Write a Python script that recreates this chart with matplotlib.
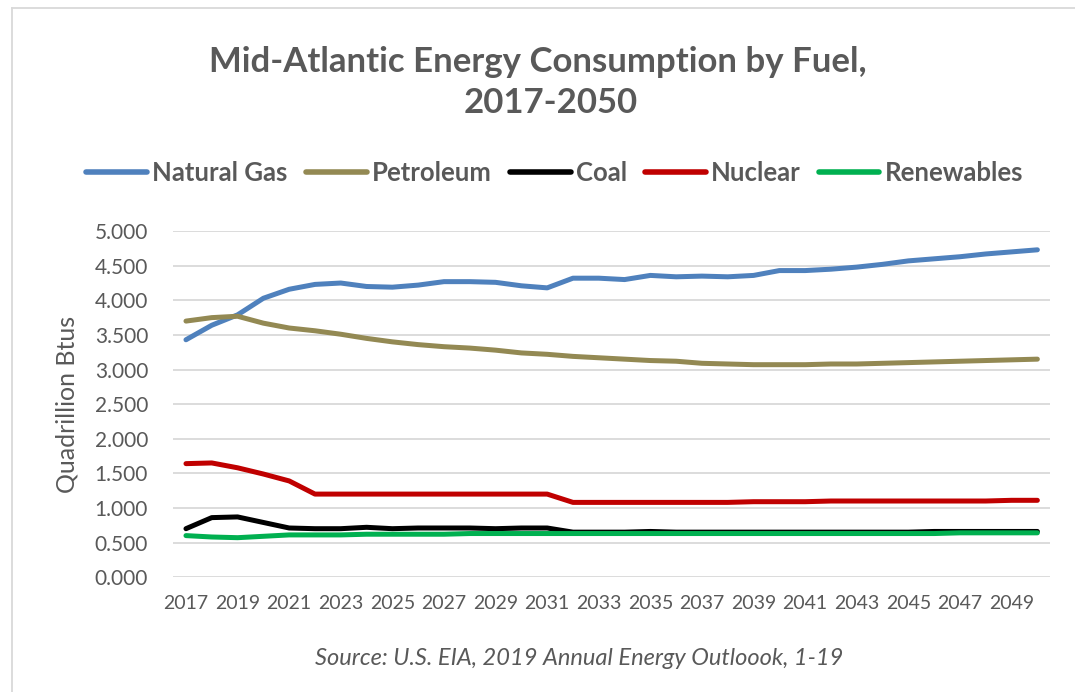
import matplotlib.pyplot as plt
import numpy as np

years = np.arange(2017, 2051)

natural_gas = [3.43, 3.64, 3.79, 4.03, 4.16, 4.23, 4.25, 4.20, 4.19, 4.22, 4.27,
               4.27, 4.26, 4.21, 4.18, 4.32, 4.32, 4.30, 4.36, 4.34, 4.35, 4.34,
               4.36, 4.43, 4.43, 4.45, 4.48, 4.52, 4.57, 4.60, 4.63, 4.67, 4.70,
               4.73]
petroleum = [3.70, 3.75, 3.77, 3.67, 3.60, 3.56, 3.51, 3.45, 3.40, 3.36, 3.33,
             3.31, 3.28, 3.24, 3.22, 3.19, 3.17, 3.15, 3.13, 3.12, 3.09, 3.08,
             3.07, 3.07, 3.07, 3.08, 3.08, 3.09, 3.10, 3.11, 3.12, 3.13, 3.14,
             3.15]
coal = [0.70, 0.86, 0.87, 0.79, 0.71, 0.70, 0.70, 0.72, 0.70, 0.71, 0.71,
        0.71, 0.70, 0.71, 0.71, 0.65, 0.65, 0.65, 0.66, 0.65, 0.65, 0.65,
        0.65, 0.65, 0.65, 0.65, 0.65, 0.65, 0.65, 0.66, 0.66, 0.66, 0.66,
        0.66]
nuclear = [1.64, 1.65, 1.58, 1.49, 1.39, 1.20, 1.20, 1.20, 1.20, 1.20, 1.20,
           1.20, 1.20, 1.20, 1.20, 1.08, 1.08, 1.08, 1.08, 1.08, 1.08, 1.08,
           1.09, 1.09, 1.09, 1.10, 1.10, 1.10, 1.10, 1.10, 1.10, 1.10, 1.11,
           1.11]
renewables = [0.60, 0.58, 0.57, 0.59, 0.61, 0.61, 0.61, 0.62, 0.62, 0.62, 0.62,
              0.63, 0.63, 0.63, 0.63, 0.63, 0.63, 0.63, 0.63, 0.63, 0.63, 0.63,
              0.63, 0.63, 0.63, 0.63, 0.63, 0.63, 0.63, 0.63, 0.64, 0.64, 0.64,
              0.64]

series = [("Natural Gas", natural_gas, "#4F81BD"),
          ("Petroleum", petroleum, "#938953"),
          ("Coal", coal, "#000000"),
          ("Nuclear", nuclear, "#C00000"),
          ("Renewables", renewables, "#00B050")]

plt.rcParams['font.family'] = ['Lato', 'DejaVu Sans']
txt = "#595959"

fig = plt.figure(figsize=(10.75, 6.92), dpi=100)
ax = fig.add_axes([0.161, 0.166, 0.816, 0.500])

for name, vals, col in series:
    ax.plot(years, vals, color=col, linewidth=3.6, label=name,
            solid_capstyle='round', solid_joinstyle='round')

ax.set_xlim(2016.5, 2050.5)
ax.set_ylim(0, 5)
ax.set_yticks(np.arange(0, 5.01, 0.5))
ax.set_yticklabels([f"{v:.3f}" for v in np.arange(0, 5.01, 0.5)])
ax.set_xticks(years[::2])
ax.grid(axis='y', color='#D9D9D9', linewidth=1.3)
ax.set_axisbelow(True)
for s in ax.spines.values():
    s.set_visible(False)
ax.tick_params(length=0, colors=txt)
ax.tick_params(axis='y', pad=18, labelsize=15)
ax.tick_params(axis='x', pad=13, labelsize=14)
ax.set_ylabel("Quadrillion Btus", color=txt, fontsize=18, labelpad=12)

# title, two lines (second line sits a bit right, as in the original)
fig.text(0.500, 0.911, "Mid-Atlantic Energy Consumption by Fuel,",
         ha='center', va='center', fontsize=25, fontweight='bold', color=txt)
fig.text(0.512, 0.851, "2017-2050",
         ha='center', va='center', fontsize=25, fontweight='bold', color=txt)

leg = fig.legend(loc='center', bbox_to_anchor=(0.516, 0.750), ncol=5, frameon=False,
                 handlelength=2.37, handletextpad=0.2, columnspacing=0.7,
                 prop={'size': 18.5, 'weight': 'bold'})
for t in leg.get_texts():
    t.set_color(txt)
for h in leg.get_lines():
    h.set_linewidth(4.0)

fig.text(0.539, 0.048, "Source: U.S. EIA, 2019 Annual Energy Outloook, 1-19",
         ha='center', va='center', fontsize=17, style='italic', color=txt)

# chart border (cut off on right and bottom in the original)
fig.add_artist(plt.Line2D([0.011, 0.011], [0, 0.988], transform=fig.transFigure,
                          color='#D9D9D9', linewidth=1.3))
fig.add_artist(plt.Line2D([0.011, 1.0], [0.988, 0.988], transform=fig.transFigure,
                          color='#D9D9D9', linewidth=1.3))

fig.savefig("out.png", dpi=100)
